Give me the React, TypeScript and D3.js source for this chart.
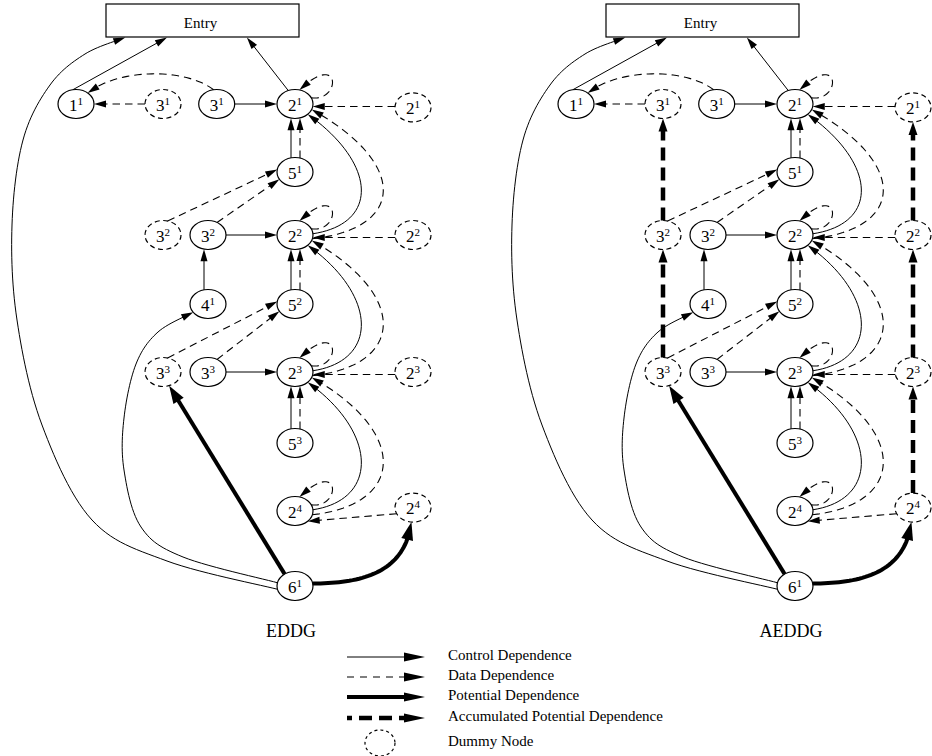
import React from 'react';
import * as d3 from 'd3';

type Pt = [number, number];

// ---------- DATA ----------
const nodeIds = ['1_1', 'd3_1', '3_1', '2_1', 'd2_1', '5_1', 'd3_2', '3_2', '2_2', 'd2_2', '4_1', '5_2', 'd3_3', '3_3', '2_3', 'd2_3', '5_3', '2_4', 'd2_4', '6_1'];
const nodeNames = ['1', '3', '3', '2', '2', '5', '3', '3', '2', '2', '4', '5', '3', '3', '2', '2', '5', '2', '2', '6'];
const nodeIters = ['1', '1', '1', '1', '1', '1', '2', '2', '2', '2', '1', '2', '3', '3', '3', '3', '3', '4', '4', '1'];
const nodeDummy = [false, true, false, false, true, false, true, false, false, true, false, false, true, false, false, true, false, false, true, false];
const nodeCol = [0, 1, 2.1, 3, 4, 3, 1, 2, 3, 4, 2, 3, 1, 2, 3, 4, 3, 3, 4, 3];
const nodeRow = [0, 0, 0, 0, 0.05, 1, 2, 2, 2, 2, 3, 3, 4, 4, 4, 4, 5, 6, 5.95, 7];

const controlEdges: [string, string][] = [
  ['1_1', 'entry'], ['6_1', 'entry'], ['2_1', 'entry'], ['3_1', '2_1'], ['5_1', '2_1'], ['2_2', '2_1'],
  ['3_2', '2_2'], ['4_1', '3_2'], ['5_2', '2_2'], ['2_3', '2_2'], ['6_1', '4_1'], ['3_3', '2_3'],
  ['5_3', '2_3'], ['2_4', '2_3'],
];
const dataEdges: [string, string][] = [
  ['3_1', '1_1'], ['d3_1', '1_1'], ['2_1', '2_1'], ['d2_1', '2_1'], ['2_2', '2_1'], ['5_1', '2_1'],
  ['d3_2', '5_1'], ['3_2', '5_1'], ['2_2', '2_2'], ['d2_2', '2_2'], ['2_3', '2_2'], ['5_2', '2_2'],
  ['d3_3', '5_2'], ['3_3', '5_2'], ['2_3', '2_3'], ['d2_3', '2_3'], ['2_4', '2_3'], ['5_3', '2_3'],
  ['2_4', '2_4'], ['d2_4', '2_4'],
];
const potentialEdges: [string, string][] = [['6_1', 'd3_3'], ['6_1', 'd2_4']];
const accumulatedEdges: [string, string][] = [['d3_3', 'd3_2'], ['d3_2', 'd3_1'], ['d2_4', 'd2_3'], ['d2_3', 'd2_2'], ['d2_2', 'd2_1']];

const panelTitles = ['EDDG', 'AEDDG'];
const panelShowsAccumulated = [false, true];
const entryLabel = 'Entry';
const legendLabels = ['Control Dependence', 'Data Dependence', 'Potential Dependence', 'Accumulated Potential Dependence', 'Dummy Node'];
const legendKinds = ['control', 'data', 'potential', 'accumulated', 'dummy'];

// ---------- LAYOUT ----------
const W = 932, H = 756;
const RX = 18, RY = 14.5;
const FONT = "'Liberation Serif', 'Times New Roman', Times, serif";
const colX = d3.scaleLinear().domain([0, 1, 2, 3, 4]).range([76, 163, 208, 295, 413]);
const rowY = d3.scaleLinear().domain([0, 1, 2, 3, 4, 5, 6, 7]).range([104, 172, 235, 304, 372, 443, 511, 586]);
const panelX = d3.scaleLinear().domain([0, 1]).range([0, 500]);
const ENTRY = { x0: 106, x1: 299, y0: 4, y1: 37 };
const entryFrac: Record<string, number> = { '1_1': 0.316, '2_1': 0.73, '6_1': 0.1 };

interface N { id: string; name: string; iter: string; dummy: boolean; x: number; y: number; }
const nodes: N[] = nodeIds.map((id, i) => ({
  id, name: nodeNames[i], iter: nodeIters[i], dummy: nodeDummy[i], x: colX(nodeCol[i]), y: rowY(nodeRow[i]),
}));
const byId = new Map(nodes.map(n => [n.id, n]));

const STYLE: Record<string, { w: number; dash?: string; al: number; aw: number }> = {
  control: { w: 1, al: 12, aw: 7 },
  data: { w: 1.1, dash: '7.5,5', al: 12, aw: 7 },
  potential: { w: 4, al: 18, aw: 12 },
  accumulated: { w: 4.5, dash: '13,7', al: 13, aw: 9 },
};

function port(n: N, deg: number): Pt {
  const r = (deg * Math.PI) / 180;
  return [n.x + RX * Math.cos(r), n.y + RY * Math.sin(r)];
}
function cubic(p0: Pt, p1: Pt, p2: Pt, p3: Pt, steps = 40): Pt[] {
  const out: Pt[] = [];
  for (let i = 0; i <= steps; i++) {
    const t = i / steps, u = 1 - t;
    const a = u * u * u, b = 3 * u * u * t, c = 3 * u * t * t, d = t * t * t;
    out.push([a * p0[0] + b * p1[0] + c * p2[0] + d * p3[0], a * p0[1] + b * p1[1] + c * p2[1] + d * p3[1]]);
  }
  return out;
}
function catmull(pts: Pt[], steps = 14): Pt[] {
  const out: Pt[] = [pts[0]];
  for (let i = 0; i < pts.length - 1; i++) {
    const p0 = pts[Math.max(0, i - 1)], p1 = pts[i], p2 = pts[i + 1], p3 = pts[Math.min(pts.length - 1, i + 2)];
    const c1: Pt = [p1[0] + (p2[0] - p0[0]) / 6, p1[1] + (p2[1] - p0[1]) / 6];
    const c2: Pt = [p2[0] - (p3[0] - p1[0]) / 6, p2[1] - (p3[1] - p1[1]) / 6];
    out.push(...cubic(p1, c1, c2, p2, steps).slice(1));
  }
  return out;
}
const vOff = (dx: number) => RY * Math.sqrt(Math.max(0, 1 - (dx / RX) ** 2));
const hOff = (dy: number) => RX * Math.sqrt(Math.max(0, 1 - (dy / RY) ** 2));

function route(kind: string, a: string, b: string): Pt[] {
  const A = byId.get(a)!;
  if (b === 'entry') {
    const tip: Pt = [ENTRY.x0 + (ENTRY.x1 - ENTRY.x0) * entryFrac[a], ENTRY.y1 + 0.5];
    if (a === '6_1') {
      return catmull([port(A, 167), [167, 561], [92, 520], [42, 425], [17, 320], [12, 225], [23, 140], [50, 85], [85, 54], tip]);
    }
    return [port(A, a === '1_1' ? -100 : -112), tip];
  }
  const B = byId.get(b)!;
  if (a === b) {
    const s = port(A, -25), e = port(A, -76);
    return cubic(s, [s[0] + 30, s[1] + 4], [e[0] + 42, e[1] - 40], e);
  }
  if (a === '6_1' && b === '4_1') {
    return catmull([port(A, 193), [183, 557], [141, 527], [124, 470], [124, 418], [136, 364], [158, 332], port(B, 145)]);
  }
  if (a === '6_1' && b === 'd2_4') {
    const s = port(A, -10), e = port(B, 95);
    return cubic(s, [365, s[1]], [405, 571], e);
  }
  if (a === '6_1' && b === 'd3_3') return [port(A, -125), port(B, 70)];
  if (A.name === '2' && B.name === '2' && !A.dummy && !B.dummy && A.y > B.y) {
    if (kind === 'control') {
      const s = port(A, -5), t = port(B, 45);
      return cubic(s, [s[0] + 66, s[1] - 10], [t[0] + 70, t[1] + 50], t);
    }
    const s = port(A, 15), t = port(B, 22);
    return cubic(s, [s[0] + 92, s[1] - 10], [t[0] + 98, t[1] + 55], t);
  }
  if (a === '3_1' && b === '1_1') {
    const s = port(A, -100), t = port(B, -50);
    return cubic(s, [185, 68], [120, 68], t);
  }
  if (a === 'd2_4' && b === '2_4') return [port(A, 155), port(B, 45)];
  if (B.name === '5') return A.dummy ? [port(A, -75), port(B, 190)] : [port(A, -60), port(B, 150)];
  if (Math.abs(A.x - B.x) < 1) {
    const dx = kind === 'control' ? -4 : kind === 'data' ? 5 : 0;
    const sgn = A.y > B.y ? 1 : -1;
    return [[A.x + dx, A.y - sgn * vOff(dx)], [B.x + dx, B.y + sgn * vOff(dx)]];
  }
  // horizontal
  const y = A.dummy && A.name === '2' ? B.y + 2.5 : B.y;
  const sgn = A.x > B.x ? 1 : -1;
  return [[A.x - sgn * hOff(y - A.y), y], [B.x + sgn * hOff(y - B.y), y]];
}

function arrowize(pts: Pt[], len: number, wid: number) {
  const tip = pts[pts.length - 1];
  const dist = (p: Pt) => Math.hypot(p[0] - tip[0], p[1] - tip[1]);
  let i = pts.length - 2;
  while (i > 0 && dist(pts[i]) < len) i--;
  const p = pts[i], q = pts[i + 1];
  const dp = dist(p), dq = dist(q);
  const f = dp === dq ? 0 : (dp - len) / (dp - dq);
  const base: Pt = [p[0] + (q[0] - p[0]) * f, p[1] + (q[1] - p[1]) * f];
  const ux = (tip[0] - base[0]) / len, uy = (tip[1] - base[1]) / len;
  const nx = -uy * wid / 2, ny = ux * wid / 2;
  const line = pts.slice(0, i + 1).concat([[base[0] + ux * 1.5, base[1] + uy * 1.5]]);
  const head = [tip, [base[0] + nx, base[1] + ny], [base[0] - nx, base[1] - ny]];
  return { line, head };
}

const lineGen = d3.line<Pt>().x(d => d[0]).y(d => d[1]);

function Edge({ kind, a, b }: { kind: string; a: string; b: string }) {
  const st = STYLE[kind];
  const { line, head } = arrowize(route(kind, a, b), st.al, st.aw);
  return (
    <g>
      <path d={lineGen(line) || ''} fill="none" stroke="#000" strokeWidth={st.w} strokeDasharray={st.dash} />
      <polygon points={head.map(p => p.join(',')).join(' ')} fill="#000" />
    </g>
  );
}

function NodeLabel({ x, y, name, iter, size = 17 }: { x: number; y: number; name: string; iter: string; size?: number }) {
  return (
    <text x={x} y={y + 6.5} textAnchor="middle" fontFamily={FONT} fontSize={size} fill="#000">
      <tspan>{name}</tspan>
      <tspan dy={-6} fontSize={11}>{iter}</tspan>
    </text>
  );
}

function Panel({ idx }: { idx: number }) {
  const dx = panelX(idx);
  const groups: [string, [string, string][]][] = [
    ['control', controlEdges], ['data', dataEdges], ['potential', potentialEdges],
  ];
  if (panelShowsAccumulated[idx]) groups.push(['accumulated', accumulatedEdges]);
  return (
    <g transform={`translate(${dx},0)`}>
      <rect x={ENTRY.x0} y={ENTRY.y0} width={ENTRY.x1 - ENTRY.x0} height={ENTRY.y1 - ENTRY.y0} fill="#fff" stroke="#000" strokeWidth={1.2} />
      <text x={(ENTRY.x0 + ENTRY.x1) / 2 - 2} y={27.5} textAnchor="middle" fontFamily={FONT} fontSize={15}>{entryLabel}</text>
      {groups.map(([kind, list]) => list.map(([a, b], i) => <Edge key={kind + i} kind={kind} a={a} b={b} />))}
      {nodes.map(n => (
        <g key={n.id}>
          <ellipse cx={n.x} cy={n.y} rx={RX} ry={RY} fill="none" stroke="#000" strokeWidth={1.2} strokeDasharray={n.dummy ? '5,3.5' : undefined} />
          <NodeLabel x={n.x} y={n.y} name={n.name} iter={n.iter} />
        </g>
      ))}
      <text x={colX(3) - 4} y={637} textAnchor="middle" fontFamily={FONT} fontSize={18}>{panelTitles[idx]}</text>
    </g>
  );
}

function Legend() {
  const rowYs = [657, 677, 697, 718, 743];
  const x0 = 347, x1 = 425;
  return (
    <g>
      {legendKinds.map((k, i) => {
        const y = rowYs[i];
        if (k === 'dummy') {
          return (
            <g key={k}>
              <ellipse cx={380} cy={y} rx={15} ry={13} fill="none" stroke="#000" strokeWidth={1.2} strokeDasharray="3,3" />
              <text x={448} y={y + 3} fontFamily={FONT} fontSize={15}>{legendLabels[i]}</text>
            </g>
          );
        }
        const st = STYLE[k];
        const { line, head } = arrowize([[x0, y], [x1, y]], 21, 9);
        return (
          <g key={k}>
            <path d={lineGen(line) || ''} stroke="#000" strokeWidth={st.w} strokeDasharray={k === 'accumulated' ? '13,7' : k === 'data' ? '7,6' : undefined} strokeDashoffset={k === 'accumulated' ? 8 : 0} fill="none" />
            <polygon points={head.map(p => p.join(',')).join(' ')} fill="#000" />
            <text x={448} y={y + 3} fontFamily={FONT} fontSize={15}>{legendLabels[i]}</text>
          </g>
        );
      })}
    </g>
  );
}

export default function App() {
  return (
    <svg width={W} height={H} viewBox={`0 0 ${W} ${H}`} style={{ display: 'block', position: 'absolute', left: 0, top: 0, background: '#fff' }}>
      <rect width={W} height={H} fill="#fff" />
      {panelTitles.map((_, i) => <Panel key={i} idx={i} />)}
      <Legend />
    </svg>
  );
}
